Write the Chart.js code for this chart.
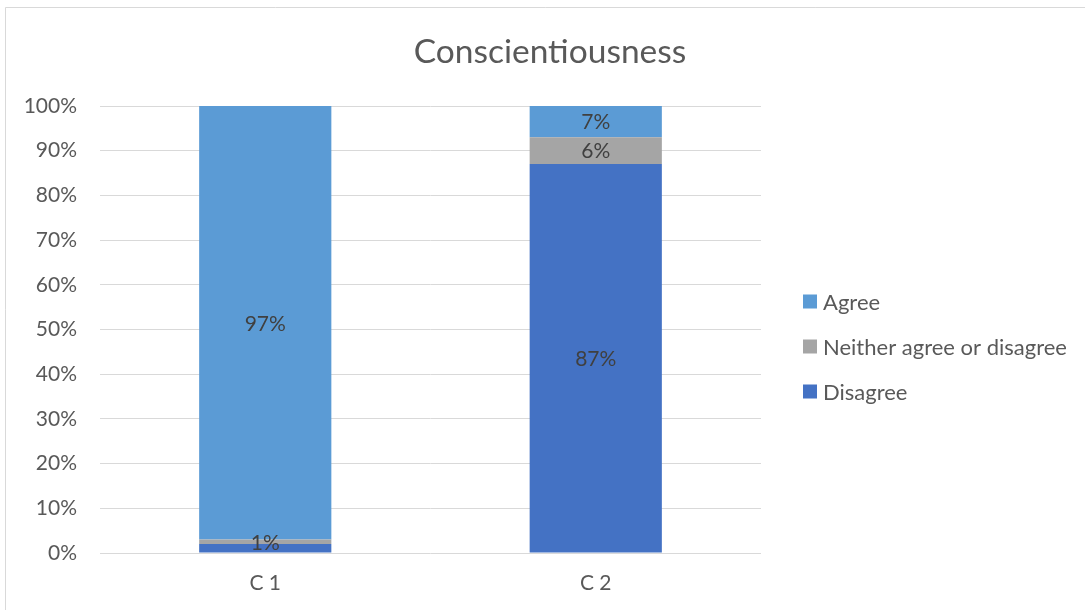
<!DOCTYPE html>
<html>
<head>
<meta charset="utf-8">
<script src="https://cdn.jsdelivr.net/npm/chart.js@4"></script>
<style>
  html, body { margin: 0; padding: 0; background: #ffffff; }
  #wrap { width: 1085px; height: 610px; position: relative; }
</style>
</head>
<body>
<div id="wrap"><canvas id="c" width="1085" height="610"></canvas></div>
<script>
// Survey responses per item, in percent
const categories = ['C 1', 'C 2'];
const disagree = [2, 87];
const neither = [1, 6];
const agree = [97, 7];
const yTicks = [0, 10, 20, 30, 40, 50, 60, 70, 80, 90, 100];
// Which segment values are printed on the bars
const showDisagree = [false, true];
const showNeither = [true, true];
const showAgree = [true, true];
const chartTitle = 'Conscientiousness';

const FONT = 'Lato, "Open Sans", sans-serif';
const TEXT = '#595959';

// Frame around the chart
const framePlugin = {
  id: 'frame',
  beforeDraw(chart) {
    const ctx = chart.ctx;
    ctx.save();
    ctx.fillStyle = '#ffffff';
    ctx.fillRect(0, 0, chart.width, chart.height);
    ctx.strokeStyle = '#d9d9d9';
    ctx.lineWidth = 1;
    ctx.beginPath();
    ctx.moveTo(5.5, chart.height + 2);
    ctx.lineTo(5.5, 7.5);
    ctx.lineTo(chart.width + 2, 7.5);
    ctx.stroke();
    ctx.restore();
  }
};

// Title centred over the whole chart (plot + legend)
const titlePlugin = {
  id: 'centredTitle',
  afterDraw(chart) {
    const ctx = chart.ctx;
    ctx.save();
    ctx.font = '33.5px ' + FONT;
    ctx.fillStyle = TEXT;
    ctx.textAlign = 'center';
    ctx.textBaseline = 'middle';
    ctx.fillText(chartTitle, 550, 52);
    ctx.restore();
  }
};

// Value labels centred in each segment
const valueLabels = {
  id: 'valueLabels',
  afterDatasetsDraw(chart) {
    const ctx = chart.ctx;
    ctx.save();
    ctx.font = '21px ' + FONT;
    ctx.fillStyle = '#404040';
    ctx.textAlign = 'center';
    ctx.textBaseline = 'middle';
    chart.data.datasets.forEach((ds, di) => {
      const meta = chart.getDatasetMeta(di);
      meta.data.forEach((bar, i) => {
        if (!ds.showLabel[i]) return;
        const p = bar.getProps(['x', 'y', 'base'], true);
        ctx.fillText(ds.data[i] + '%', p.x, (p.y + p.base) / 2 + 1);
      });
    });
    ctx.restore();
  }
};

// Legend to the right of the plot, top entry = top segment
const sideLegend = {
  id: 'sideLegend',
  afterDraw(chart) {
    const ctx = chart.ctx;
    const area = chart.chartArea;
    const x = area.right + 42;
    const step = 45;
    const items = chart.data.datasets.slice().reverse();
    ctx.save();
    ctx.font = '22px ' + FONT;
    ctx.textBaseline = 'middle';
    ctx.textAlign = 'left';
    items.forEach((ds, k) => {
      const cy = 301.5 + k * step;
      ctx.fillStyle = ds.backgroundColor;
      ctx.fillRect(x, cy - 7, 14, 14);
      ctx.fillStyle = TEXT;
      ctx.fillText(ds.label, x + 20, cy + 1);
    });
    ctx.restore();
  }
};

new Chart(document.getElementById('c'), {
  type: 'bar',
  data: {
    labels: categories,
    datasets: [
      { label: 'Disagree', data: disagree, backgroundColor: '#4472c4', showLabel: showDisagree },
      { label: 'Neither agree or disagree', data: neither, backgroundColor: '#a5a5a5', showLabel: showNeither },
      { label: 'Agree', data: agree, backgroundColor: '#5b9bd5', showLabel: showAgree }
    ]
  },
  options: {
    responsive: false,
    animation: false,
    devicePixelRatio: 1,
    layout: { padding: { left: 10, right: 324, top: 106, bottom: 14 } },
    datasets: {
      bar: { categoryPercentage: 1, barPercentage: 0.4, borderWidth: 0 }
    },
    scales: {
      x: {
        stacked: true,
        afterFit(scale) { scale.height = 43; },
        grid: { display: false, drawTicks: false },
        border: { display: false },
        ticks: { color: TEXT, font: { family: FONT, size: 21 }, padding: 18 }
      },
      y: {
        stacked: true,
        min: 0,
        max: 100,
        afterBuildTicks(scale) { scale.ticks = yTicks.map(v => ({ value: v })); },
        afterFit(scale) { scale.width = 90; },
        grid: { color: '#d9d9d9', drawTicks: false, lineWidth: 1 },
        border: { display: false },
        ticks: {
          color: TEXT,
          font: { family: FONT, size: 21 },
          padding: 23,
          callback: v => v + '%'
        }
      }
    },
    plugins: {
      title: { display: false },
      legend: { display: false },
      tooltip: { enabled: false }
    }
  },
  plugins: [framePlugin, valueLabels, sideLegend, titlePlugin]
});
</script>
</body>
</html>
